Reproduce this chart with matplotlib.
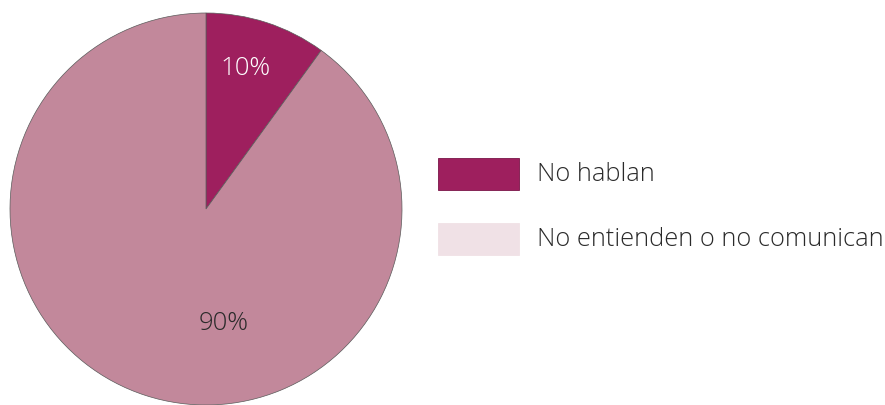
import matplotlib.pyplot as plt
from matplotlib.patches import Rectangle

etiquetas = ['No hablan', 'No entienden o no comunican']
valores = [10, 90]
textos_pct = ['10%', '90%']
colores_pie = ['#9e1f5e', '#c2889b']
colores_leyenda = ['#9e1f5e', '#f0e1e6']

plt.rcParams['font.family'] = ['Open Sans', 'DejaVu Sans']

fig = plt.figure(figsize=(8.85, 4.06), dpi=100)
W, H = 885, 406

# eje del pastel: cuadrado de 392 px, arriba en y=14
ax = fig.add_axes([10 / W, 0 / H, 392 / W, 392 / H])
ax.pie(valores, colors=colores_pie, startangle=90, counterclock=False,
       radius=1, wedgeprops=dict(edgecolor='#5a5a5a', linewidth=0.5))
ax.set_xlim(-1, 1)
ax.set_ylim(-1, 1)
ax.set_aspect('auto')
ax.axis('off')

# etiquetas de porcentaje
ax.text(0.20, 0.72, textos_pct[0], color='white', fontsize=18.5,
        fontweight='light', ha='center', va='center')
ax.text(0.09, -0.58, textos_pct[1], color='#2a2a2a', fontsize=18.5,
        fontweight='light', ha='center', va='center')

# leyenda a mano
for i, (et, col) in enumerate(zip(etiquetas, colores_leyenda)):
    y_top = 159 + i * 65
    fig.add_artist(Rectangle((438 / W, 1 - (y_top + 32) / H), 81 / W, 32 / H,
                             transform=fig.transFigure, facecolor=col,
                             edgecolor='#7a1548' if i == 0 else col,
                             linewidth=0.6))
    fig.text(537 / W, 1 - (y_top + 16) / H, et, fontsize=18.3,
             fontweight='light', color='#2a2a2a', ha='left', va='center')

fig.savefig('out.png', dpi=100)
